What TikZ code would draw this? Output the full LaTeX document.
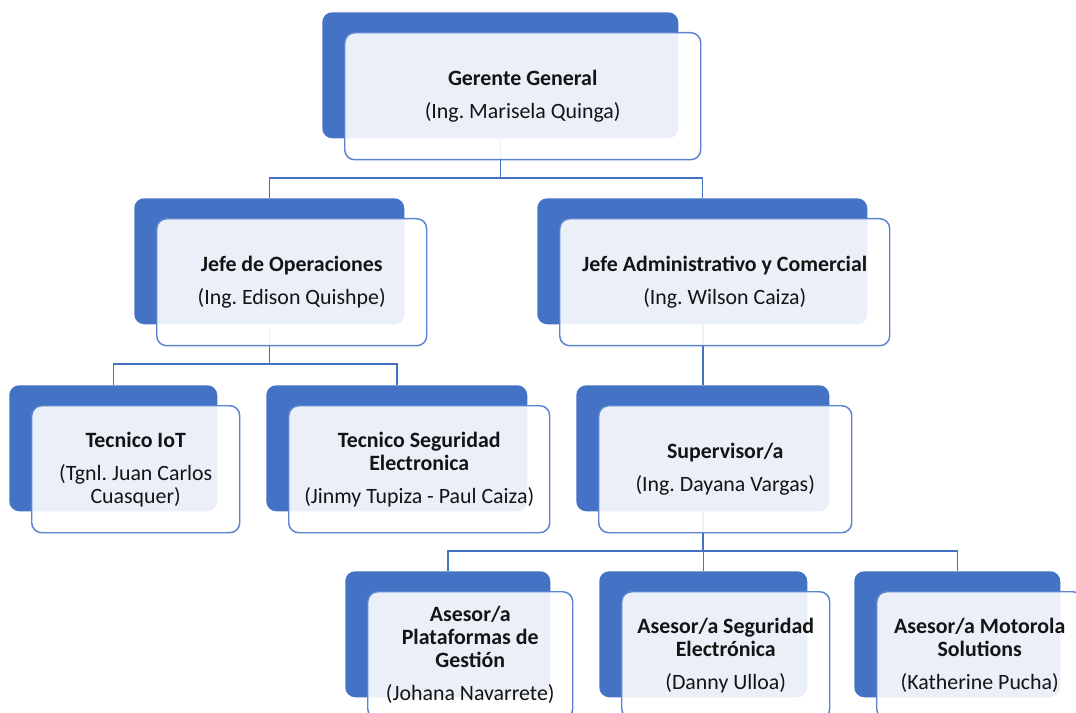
\documentclass[tikz,border=0pt]{standalone}
\usepackage{fontspec}
\setmainfont{Carlito}
\usetikzlibrary{calc}
\frenchspacing

\definecolor{orgblue}{HTML}{4472C4}
\definecolor{edgeblue}{HTML}{5B83CF}
\definecolor{inktext}{HTML}{141414}

\tikzset{
  backbox/.style={draw=none, fill=orgblue, rounded corners=7.5pt,
    anchor=north west, minimum height=126*0.75pt, inner sep=0pt},
  frontbox/.style={draw=edgeblue, line width=1.1pt, fill=white, fill opacity=0.89,
    text opacity=1, rounded corners=7.5pt, anchor=north west,
    minimum height=127*0.75pt, inner sep=2pt, align=center,
    text=inktext, font=\fontsize{16.4}{17.2}\selectfont},
  link/.style={draw=orgblue, line width=1.1pt}
}

% one position: a blue tab with a lighter card laid over it, offset down-right
\newcommand\orgunit[5]{%
  \node[backbox, minimum width=#4*0.75pt] (#1b) at (#2,#3) {};
  \node[frontbox, minimum width=#4*0.75pt] (#1) at ($(#1b.north west)+(22,20)$) {#5};
}

\begin{document}
\begin{tikzpicture}[x=0.75pt, y=-0.75pt]
  \useasboundingbox (0,0) rectangle (1076,713);
  \clip (0,0) rectangle (1076,713);
  \fill[white] (0,0) rectangle (1076,713);

  % bus levels for the connectors
  \coordinate (bus1) at (0,178);
  \coordinate (bus2) at (0,364);
  \coordinate (bus3) at (0,551);

  % invisible first pass so the connectors can refer to the boxes
  \begin{scope}[opacity=0]
  \orgunit{gg}{322}{12}{356}{}
  \orgunit{ops}{134}{198}{270}{}
  \orgunit{adm}{537}{198}{330}{}
  \orgunit{iot}{9}{385}{208}{}
  \orgunit{seg}{266}{385}{261}{}
  \orgunit{sup}{576}{385}{253}{}
  \orgunit{pla}{345}{571}{205}{}
  \orgunit{ele}{599}{571}{208}{}
  \orgunit{mot}{854}{571}{206}{}
  \end{scope}

  % connectors
  \draw[link] (ggb.south) -- (ggb.south |- bus1) -| (opsb.north);
  \draw[link] (ggb.south |- bus1) -| (admb.north);
  \draw[link] (opsb.south) -- (opsb.south |- bus2) -| (iotb.north);
  \draw[link] (opsb.south |- bus2) -| (segb.north);
  \draw[link] (admb.south) -- (admb.south -| supb.north) -- (supb.north);
  \draw[link] (supb.south) -- (supb.south |- bus3) -| (plab.north);
  \draw[link] (supb.south |- bus3) -| (eleb.north);
  \draw[link] (supb.south |- bus3) -| (motb.north);

  % positions
  \orgunit{gg}{322}{12}{356}{\textbf{Gerente General}\\[7.5pt](Ing. Marisela Quinga)}
  \orgunit{ops}{134}{198}{270}{\textbf{Jefe de Operaciones}\\[7.5pt](Ing. Edison Quishpe)}
  \orgunit{adm}{537}{198}{330}{\textbf{Jefe Administrativo y Comercial}\\[7.5pt](Ing. Wilson Caiza)}
  \orgunit{iot}{9}{385}{208}{\textbf{Tecnico IoT}\\[7.5pt](Tgnl. Juan Carlos\\Cuasquer)}
  \orgunit{seg}{266}{385}{261}{\textbf{Tecnico Seguridad}\\\textbf{Electronica}\\[7.5pt](Jinmy Tupiza - Paul Caiza)}
  \orgunit{sup}{576}{385}{253}{\textbf{Supervisor/a}\\[7.5pt](Ing. Dayana Vargas)}
  \orgunit{pla}{345}{571}{205}{\textbf{Asesor/a}\\\textbf{Plataformas de}\\\textbf{Gestión}\\[7.5pt](Johana Navarrete)}
  \orgunit{ele}{599}{571}{208}{\textbf{Asesor/a Seguridad}\\\textbf{Electrónica}\\[7.5pt](Danny Ulloa)}
  \orgunit{mot}{854}{571}{206}{\textbf{Asesor/a Motorola}\\\textbf{Solutions}\\[7.5pt](Katherine Pucha)}
\end{tikzpicture}
\end{document}
